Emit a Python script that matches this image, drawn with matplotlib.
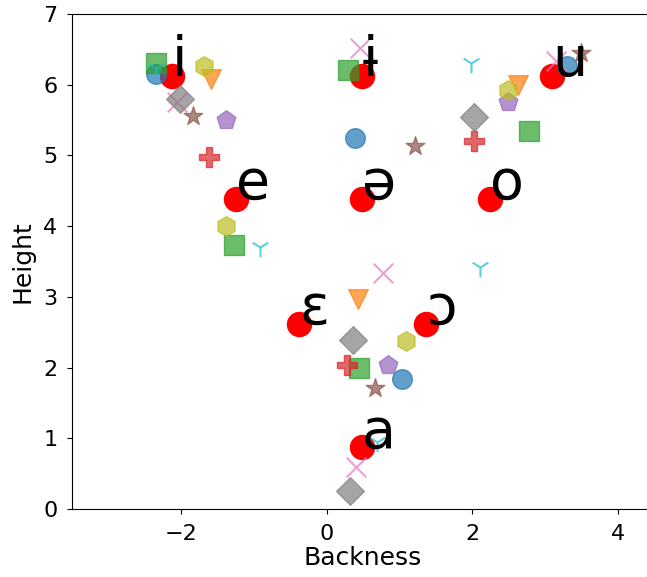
import numpy as np
import matplotlib
matplotlib.use("Agg")
import matplotlib.pyplot as plt

# voyelles moyennes (points rouges)
vowels = ['i', 'ɨ', 'u', 'e', 'ə', 'o', 'ɛ', 'ɔ', 'a']
vowel_x = [-2.13, 0.49, 3.10, -1.25, 0.49, 2.24, -0.38, 1.37, 0.48]
vowel_y = [6.12, 6.12, 6.12, 4.38, 4.38, 4.38, 2.62, 2.62, 0.87]

# points individuels par locuteur
spk_markers = ['o', 'v', 's', 'P', 'p', '*', 'x', 'D', 'h', '1']
spk_x = [
    [-2.35, 0.39, 3.30, 1.03],
    [-1.59, 2.63, 0.43],
    [-2.35, 0.29, 2.78, -1.28, 0.45],
    [-1.62, 2.03, 0.28],
    [-1.38, 2.50, 0.84],
    [-1.84, 1.21, 3.50, 0.66],
    [-2.06, 0.46, 3.15, 0.78, 0.40],
    [-2.01, 2.02, 0.36, 0.32],
    [-1.69, 2.50, -1.38, 1.09],
    [-2.34, 1.99, -0.92, 2.11, 0.69],
]
spk_y = [
    [6.15, 5.25, 6.27, 1.84],
    [6.08, 5.99, 2.97],
    [6.31, 6.21, 5.34, 3.73, 2.00],
    [4.98, 5.20, 2.03],
    [5.50, 5.75, 2.04],
    [5.56, 5.13, 6.45, 1.71],
    [5.75, 6.52, 6.34, 3.34, 0.60],
    [5.80, 5.55, 2.39, 0.26],
    [6.27, 5.92, 4.00, 2.38],
    [6.24, 6.30, 3.70, 3.42, 0.95],
]

fig = plt.figure(figsize=(6.47, 5.77), dpi=100)
ax = fig.add_axes([0.1113, 0.1179, 0.8995, 0.8579])

ax.scatter(vowel_x, vowel_y, s=300, color='red', zorder=2)
for k in range(len(spk_markers)):
    ax.scatter(spk_x[k], spk_y[k], s=200, marker=spk_markers[k],
               color='C%d' % k, alpha=0.7, zorder=3)
for v, x, y in zip(vowels, vowel_x, vowel_y):
    ax.text(x, y, v, fontsize=40, zorder=4)

ax.set_xlim(-3.5, 4.5)
ax.set_ylim(0, 7)
ax.set_xticks([-2, 0, 2, 4])
ax.tick_params(labelsize=16, pad=7)
ax.set_xlabel('Backness', fontsize=18, labelpad=2)
ax.set_ylabel('Height', fontsize=18, labelpad=6)

fig.savefig('out.png', dpi=100)
